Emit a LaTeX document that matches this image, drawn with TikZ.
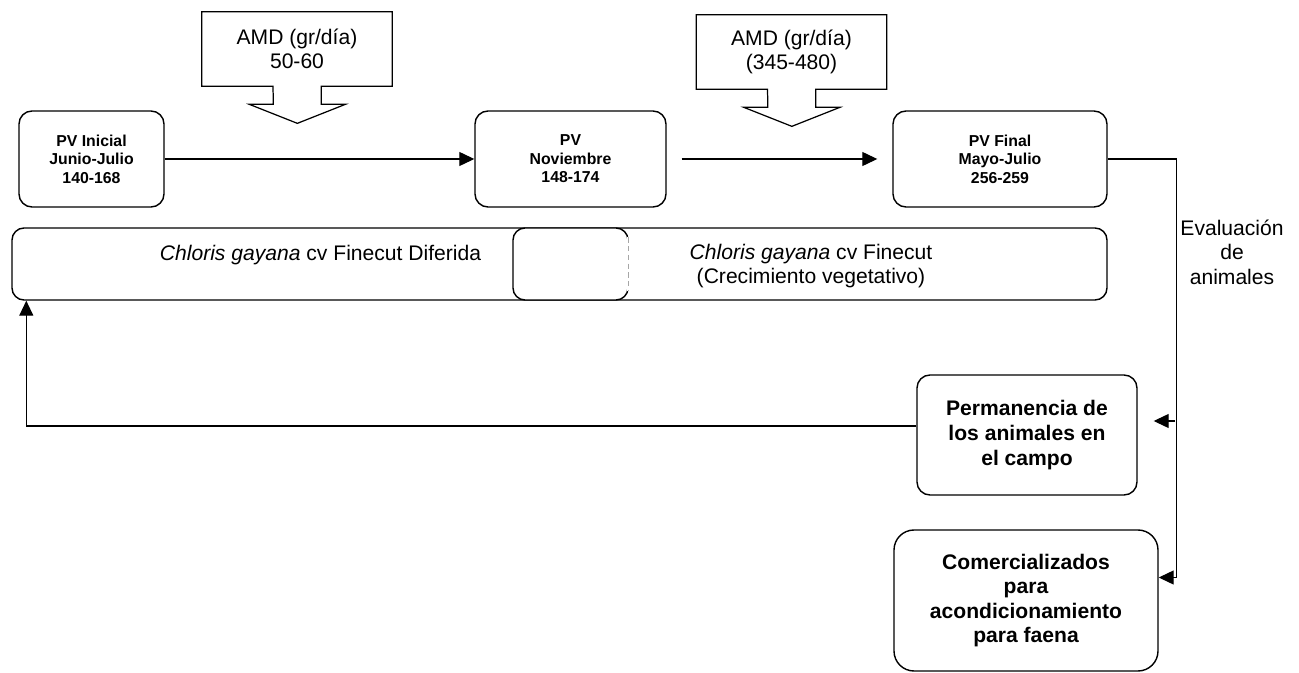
\documentclass[tikz,border=0pt]{standalone}
\usepackage{fontspec}
\setmainfont{Liberation Sans}
\usetikzlibrary{arrows.meta, calc, positioning}

\begin{document}
\begin{tikzpicture}

% TikZ styles
\tikzset{
  stage/.style={rectangle, rounded corners=0.26cm, draw=black, line width=0.8pt, minimum height=1.92cm, align=center, inner sep=2pt, font=\bfseries\fontsize{9}{10.6}\selectfont},
  pasture/.style={rectangle, rounded corners=0.24cm, draw=black, line width=0.8pt, minimum height=1.44cm, inner sep=0pt},
  outcome/.style={rectangle, rounded corners=0.26cm, draw=black, line width=0.8pt, align=center, font=\bfseries\fontsize{12}{14}\selectfont},
  amdtext/.style={rectangle, minimum width=3.8cm, minimum height=1.48cm, align=center, font=\fontsize{12}{13.4}\selectfont},
  callout/.style={draw=black, line width=0.7pt},
  arrow/.style={-{Triangle[length=0.3cm, width=0.28cm]}, line width=0.7pt},
  plainline/.style={line width=0.7pt}
};

\useasboundingbox (0,0) rectangle (25.98,-13.46);

%==========================
% PV Kasten oben
%==========================
\node[stage, minimum width=2.9cm] (inicial) at (1.83,-3.18) {PV Inicial\\Junio-Julio\\140-168};
\node[stage, minimum width=3.82cm] (noviembre) at (11.41,-3.18) {PV\\Noviembre\\148-174};
\node[stage, minimum width=4.28cm] (final) at (20.0,-3.18) {PV Final\\Mayo-Julio\\256-259};

% --- AMD Pfeilkasten ---
\node[amdtext] (amdA) at (5.94,-0.98) {AMD (gr/día)\\50-60};
\node[amdtext] (amdB) at (15.83,-1.04) {AMD (gr/día)\\(345-480)};
\draw[callout] (amdA.south) ++(-0.48,0) -| (amdA.north west) -| (amdA.south east) -- ++(-1.42,0) -- ++(0,-0.36) -- ++(0.48,0) -- ++(-0.96,-0.38) -- ++(-0.96,0.38) -- ++(0.48,0) -- cycle;
\draw[callout] (amdB.south) ++(-0.48,0) -| (amdB.north west) -| (amdB.south east) -- ++(-1.42,0) -- ++(0,-0.36) -- ++(0.48,0) -- ++(-0.96,-0.38) -- ++(-0.96,0.38) -- ++(0.48,0) -- cycle;

% --- Weide ---
\node[pasture, minimum width=21.9cm] (pasture) at (11.19,-5.28) {};
\node[pasture, fill=white, minimum width=2.3cm] (overlap) at (11.41,-5.28) {};
\draw[white, line width=1.4pt] ($(overlap.north east)+(0,-0.2)$) -- ($(overlap.south east)+(0,0.2)$);
\draw[gray!70, densely dashed, line width=0.7pt] ($(overlap.north east)+(0,-0.2)$) -- ($(overlap.south east)+(0,0.2)$);
\node[font=\fontsize{12}{13.8}\selectfont] (diferida) at (6.41,-5.1) {\textit{Chloris gayana} cv Finecut Diferida};
\node[font=\fontsize{12}{13.8}\selectfont, align=center] (vegetativo) at (16.22,-5.32) {\textit{Chloris gayana} cv Finecut\\(Crecimiento vegetativo)};

%==========================
% Ergebnis Kasten unten
%==========================
\node[outcome, minimum width=4.4cm, minimum height=2.4cm] (perm) at (20.54,-8.7) {Permanencia de\\los animales en\\el campo};
\node[outcome, rounded corners=0.4cm, minimum width=5.28cm, minimum height=2.82cm] (comerc) at (20.52,-12.01) {Comercializados\\para\\acondicionamiento\\para faena};
\node[align=center, font=\fontsize{12}{14}\selectfont] (evaluacion) at (24.64,-5.04) {Evaluación\\de\\animales};
\node[coordinate] (stub) at (23.5,-8.42) {};

% --- Pfeile ---
\draw[arrow] (inicial.east) -- (noviembre.west);
\draw[arrow, shorten <=0.3cm, shorten >=0.3cm] (noviembre.east) -- (final.west);
\draw[arrow] (final.east) -- ++(1.38,0) |- ($(comerc.east)+(0,0.46)$);
\draw[arrow, shorten >=0.32cm] (stub) -- (stub -| perm.east);
\draw[arrow] ($(perm.west)+(0,0.18)$) -| ($(pasture.south west)+(0.3,0)$);
\end{tikzpicture}
\end{document}
